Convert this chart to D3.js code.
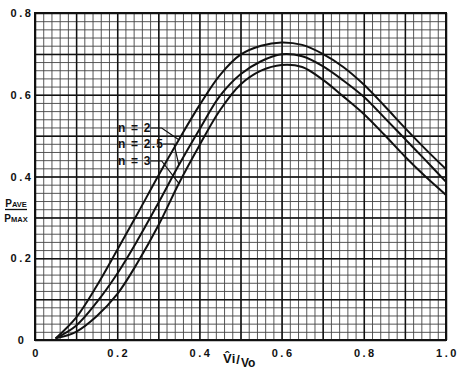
<!DOCTYPE html>
<html>
<head>
<script src="https://cdn.jsdelivr.net/npm/d3@7"></script>
<style>
    body { margin: 0; background: #fff; }
    svg text { font-family: "Liberation Sans", Arial, sans-serif; font-weight: bold; fill: #111; }
    .tick-label { font-size: 11px; letter-spacing: 2.5px; }
    .curve-label { font-size: 12px; letter-spacing: 1.2px; }
</style>
</head>
<body>
<div id="chart"></div>
<script>
// values
const xValues = [0.05, 0.10, 0.15, 0.20, 0.25, 0.30, 0.35, 0.40, 0.45, 0.50,
                 0.55, 0.60, 0.65, 0.70, 0.75, 0.80, 0.85, 0.90, 0.95, 1.00];
const n2 = [0.004, 0.055, 0.132, 0.220, 0.310, 0.402, 0.490, 0.574, 0.648, 0.698,
            0.720, 0.728, 0.722, 0.700, 0.668, 0.625, 0.573, 0.519, 0.467, 0.418];
const n25 = [0.004, 0.035, 0.092, 0.162, 0.245, 0.335, 0.428, 0.515, 0.597, 0.650,
             0.682, 0.699, 0.694, 0.670, 0.635, 0.595, 0.544, 0.492, 0.440, 0.387];
const n3 = [0.004, 0.020, 0.058, 0.112, 0.190, 0.280, 0.383, 0.476, 0.562, 0.625,
            0.659, 0.673, 0.668, 0.637, 0.596, 0.553, 0.502, 0.449, 0.400, 0.355];
const seriesNames = ["n = 2", "n = 2.5", "n = 3"];
const xTickValues = [0, 0.2, 0.4, 0.6, 0.8, 1.0];
const xTickLabels = ["0", "0.2", "0.4", "0.6", "0.8", "1.0"];
const yTickValues = [0, 0.2, 0.4, 0.6, 0.8];
const yTickLabels = ["0", "0.2", "0.4", "0.6", "0.8"];

const W = 465, H = 371;
const margin = { top: 13, right: 19, bottom: 31, left: 35 };
const width = W - margin.left - margin.right;
const height = H - margin.top - margin.bottom;

const svg = d3.select("#chart").append("svg")
    .attr("width", W).attr("height", H);
const g = svg.append("g")
    .attr("transform", `translate(${margin.left},${margin.top})`);

const x = d3.scaleLinear().domain([0, 1]).range([0, width]);
const y = d3.scaleLinear().domain([0, 0.8]).range([height, 0]);

// graph paper: minor every 0.02, heavy every 0.1
const minorX = d3.range(0, 51).map(i => i * 0.02);
const minorY = d3.range(0, 41).map(i => i * 0.02);
const majorX = d3.range(0, 11).map(i => i * 0.1);
const majorY = d3.range(0, 9).map(i => i * 0.1);

function grid(sel, axis, color, w) {
    sel.call(axis);
    sel.select(".domain").remove();
    sel.selectAll(".tick text").remove();
    sel.selectAll(".tick line").attr("stroke", color).attr("stroke-width", w);
}

g.append("g").attr("transform", `translate(0,${height})`)
    .call(s => grid(s, d3.axisBottom(x).tickValues(minorX).tickSize(-height), "#444", 0.9));
g.append("g")
    .call(s => grid(s, d3.axisLeft(y).tickValues(minorY).tickSize(-width), "#444", 0.9));
g.append("g").attr("transform", `translate(0,${height})`)
    .call(s => grid(s, d3.axisBottom(x).tickValues(majorX).tickSize(-height), "#111", 1.5));
g.append("g")
    .call(s => grid(s, d3.axisLeft(y).tickValues(majorY).tickSize(-width), "#111", 1.5));

g.append("rect")
    .attr("width", width).attr("height", height)
    .attr("fill", "none").attr("stroke", "#111").attr("stroke-width", 2);

// tick labels
const xAxis = g.append("g").attr("transform", `translate(0,${height})`)
    .call(d3.axisBottom(x).tickValues(xTickValues).tickSize(0).tickPadding(9)
        .tickFormat((d, i) => xTickLabels[i]));
xAxis.select(".domain").remove();
xAxis.selectAll("text").attr("class", "tick-label").attr("dx", "1px");

const yAxis = g.append("g")
    .call(d3.axisLeft(y).tickValues(yTickValues).tickSize(0)
        .tickFormat((d, i) => yTickLabels[i]));
yAxis.select(".domain").remove();
yAxis.selectAll("text").attr("class", "tick-label")
    .attr("text-anchor", "middle").attr("x", -14).attr("dx", "1px");

// curves
const line = d3.line()
    .x((d, i) => x(xValues[i]))
    .y(d => y(d))
    .curve(d3.curveCatmullRom.alpha(0.5));

const series = [n2, n25, n3];
g.selectAll(".curve").data(series).enter()
    .append("path").attr("class", "curve")
    .attr("d", line)
    .attr("fill", "none").attr("stroke", "#111").attr("stroke-width", 2);

// labels with leader lines
function valueAt(arr, xv) {
    const i = d3.bisectLeft(xValues, xv);
    const t = (xv - xValues[i - 1]) / (xValues[i] - xValues[i - 1]);
    return arr[i - 1] + t * (arr[i] - arr[i - 1]);
}
const labelY = [115, 131, 148];
const labelX = 83;
seriesNames.forEach((name, i) => {
    const t = g.append("text").attr("class", "curve-label")
        .attr("x", labelX).attr("y", labelY[i] + 4).text(name);
    const tw = t.node().getComputedTextLength();
    const px = x(0.35), py = y(valueAt(series[i], 0.35));
    g.append("polyline")
        .attr("points", `${labelX + tw - 1},${labelY[i]} ${labelX + tw + 10},${labelY[i]} ${px},${py}`)
        .attr("fill", "none").attr("stroke", "#111").attr("stroke-width", 1.2);
});

// y axis title: P_AVE / P_MAX
const yt = svg.append("g").attr("transform", "translate(16,0)");
const ytTop = yt.append("text").attr("y", 207).attr("text-anchor", "middle");
ytTop.append("tspan").attr("font-size", 10).text("P");
ytTop.append("tspan").attr("font-size", 7.5).text("AVE");
yt.append("line").attr("x1", -11).attr("x2", 11).attr("y1", 209.5).attr("y2", 209.5)
    .attr("stroke", "#111").attr("stroke-width", 1.3);
const ytBot = yt.append("text").attr("y", 222).attr("text-anchor", "middle");
ytBot.append("tspan").attr("font-size", 10).text("P");
ytBot.append("tspan").attr("font-size", 7.5).text("MAX");

// x axis title: V^i / Vo
const xt = svg.append("text").attr("x", 223).attr("y", 363);
xt.append("tspan").attr("font-size", 13).text("V\u0302i");
xt.append("tspan").attr("font-size", 13).attr("dx", 1).attr("dy", 1).text("/");
xt.append("tspan").attr("font-size", 12).attr("dx", 1).attr("dy", 3).text("Vo");
</script>
</body>
</html>
